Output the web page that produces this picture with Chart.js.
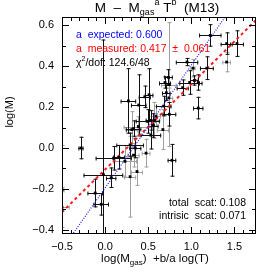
<!DOCTYPE html>
<html>
<head>
<meta charset="utf-8">
<script src="https://cdn.jsdelivr.net/npm/chart.js@4.4.1/dist/chart.umd.min.js"></script>
<style>
  html, body { margin: 0; padding: 0; background: #fff; }
  #wrap { width: 274px; height: 274px; }
</style>
</head>
<body>
<div id="wrap"><canvas id="chart" width="274" height="274"></canvas></div>
<script>
// Clusters: x = log(Mgas) + b/a log(T), y = log(M), errors in both
const ptX   = [1.22, 1.41, 1.53, 1.41, 0.95, 1.18, 1.02, 0.735, 0.74, 0.695,
               0.98, 1.035, 1.08, 0.90, 0.71, 0.74, 0.46, 0.51, 0.27, 0.39,
               0.68, 1.08, 0.745, 0.59, 0.57, 0.495, 0.385, 0.31, 0.33, 0.67,
               0.53, 0.29, 0.35, 0.475, -0.28, 0.10, 0.16, 0.23, 0.33, 0.775,
               0.37, 0.29, -0.02, 0.07, -0.115, -0.045, -0.50, -0.50, 0.53, 0.56];
const ptY   = [0.55, 0.51, 0.51, 0.42, 0.42, 0.39, 0.39, 0.345, 0.31, 0.32,
               0.32, 0.33, 0.32, 0.295, 0.27, 0.245, 0.25, 0.26, 0.23, 0.21,
               0.205, 0.195, 0.165, 0.155, 0.135, 0.13, 0.105, 0.09, 0.095, 0.09,
               0.063, 0.015, 0.0, -0.025, 0.0, -0.05, -0.045, -0.065, -0.035, -0.06,
               -0.115, -0.14, -0.13, -0.145, -0.22, -0.275, -0.29, -0.205, 0.135, 0.11];
const errX  = [0.13, 0.07, 0.08, 0.05, 0.13, 0.08, 0.03, 0.05, 0.09, 0.07,
               0.12, 0.05, 0.05, 0.07, 0.05, 0.05, 0.07, 0.05, 0.09, 0.09,
               0.09, 0.06, 0.08, 0.06, 0.07, 0.14, 0.17, 0.07, 0.09, 0.07,
               0.12, 0.16, 0.07, 0.05, 0.03, 0.21, 0.07, 0.14, 0.07, 0.05,
               0.07, 0.07, 0.23, 0.06, 0.09, 0.09, 0.09, 0.03, 0.06, 0.06];
const errY  = [0.055, 0.055, 0.065, 0.05, 0.02, 0.058, 0.045, 0.04, 0.305, 0.03,
               0.06, 0.025, 0.04, 0.04, 0.04, 0.05, 0.055, 0.13, 0.16, 0.15,
               0.05, 0.055, 0.06, 0.05, 0.09, 0.06, 0.05, 0.09, 0.04, 0.10,
               0.07, 0.06, 0.05, 0.07, 0.055, 0.06, 0.06, 0.08, 0.06, 0.08,
               0.07, 0.20, 0.66, 0.05, 0.07, 0.055, 0.10, 0.22, 0.05, 0.06];
// 1 = main sample, 2 = secondary sample
const sample = [1, 1, 1, 2, 1, 1, 2, 1, 2, 1,
                1, 1, 1, 1, 1, 2, 1, 1, 1, 1,
                1, 1, 1, 2, 2, 1, 2, 2, 1, 2,
                1, 1, 1, 2, 1, 1, 1, 2, 2, 1,
                2, 2, 1, 1, 1, 1, 2, 2, 1, 1];

// fit lines
const fitNames      = ['expected', 'measured'];
const fitSlope      = [0.600, 0.417];
const fitIntercept  = [-0.195, -0.105];
const fitX          = [-0.6, 1.8];

const xTicks = [-0.5, 0.0, 0.5, 1.0, 1.5];
const yTicks = [-0.4, -0.2, 0.0, 0.2, 0.4, 0.6];

const X_MIN = -0.5, X_MAX = 1.75, Y_MIN = -0.42, Y_MAX = 0.64;
const FONT = '"Liberation Sans", Arial, sans-serif';

function fmt(v) {
    return v.toFixed(1).replace('-', '\u2212');
}

// draw text made of pieces: [text, 0 normal | -1 subscript | 1 superscript]
function drawParts(ctx, parts, x, y, size, align, color) {
    const small = Math.round(size * 0.68);
    let total = 0;
    parts.forEach(p => {
        ctx.font = (p[1] ? small : size) + 'px ' + FONT;
        total += ctx.measureText(p[0]).width;
    });
    let cx = align === 'center' ? x - total / 2 : (align === 'right' ? x - total : x);
    ctx.fillStyle = color || '#000';
    ctx.textBaseline = 'middle';
    ctx.textAlign = 'left';
    parts.forEach(p => {
        ctx.font = (p[1] ? small : size) + 'px ' + FONT;
        const dy = p[1] === -1 ? size * 0.35 : (p[1] === 1 ? -size * 0.38 : 0);
        ctx.fillText(p[0], cx, y + dy);
        cx += ctx.measureText(p[0]).width;
    });
}

const errorBars = {
    id: 'errorBars',
    beforeDatasetsDraw(chart) {
        const { ctx, chartArea, scales: { x, y } } = chart;
        ctx.save();
        ctx.beginPath();
        ctx.rect(chartArea.left, chartArea.top, chartArea.width, chartArea.height);
        ctx.clip();
        ctx.lineWidth = 1;
        [2, 1].forEach(group => {
            ctx.strokeStyle = group === 2 ? '#a0a0a0' : '#111';
            ptX.forEach((v, i) => {
                if (sample[i] !== group) return;
                const cx = Math.round(x.getPixelForValue(v)) + 0.5;
                const cy = Math.round(y.getPixelForValue(ptY[i])) + 0.5;
                const x0 = x.getPixelForValue(v - errX[i]);
                const x1 = x.getPixelForValue(v + errX[i]);
                const y0 = y.getPixelForValue(ptY[i] - errY[i]);
                const y1 = y.getPixelForValue(ptY[i] + errY[i]);
                ctx.beginPath();
                ctx.moveTo(x0, cy); ctx.lineTo(x1, cy);
                ctx.moveTo(x0 + 0.5, cy - 2); ctx.lineTo(x0 + 0.5, cy + 2);
                ctx.moveTo(x1 - 0.5, cy - 2); ctx.lineTo(x1 - 0.5, cy + 2);
                ctx.moveTo(cx, y0); ctx.lineTo(cx, y1);
                ctx.moveTo(cx - 2, y0 - 0.5); ctx.lineTo(cx + 2, y0 - 0.5);
                ctx.moveTo(cx - 2, y1 + 0.5); ctx.lineTo(cx + 2, y1 + 0.5);
                ctx.stroke();
            });
        });
        ctx.restore();
    }
};

const frameAndText = {
    id: 'frameAndText',
    afterDraw(chart) {
        const { ctx, chartArea: a, scales: { x, y } } = chart;
        ctx.save();
        ctx.strokeStyle = '#000';
        ctx.lineWidth = 1;
        ctx.strokeRect(a.left + 0.5, a.top + 0.5, a.width - 1, a.height - 1);

        // inward ticks on all four sides
        ctx.beginPath();
        for (let v = -0.5; v <= X_MAX + 1e-9; v += 0.1) {
            const px = Math.round(x.getPixelForValue(v)) + 0.5;
            const major = xTicks.some(t => Math.abs(t - v) < 1e-6);
            const len = major ? 7 : 4;
            ctx.moveTo(px, a.bottom); ctx.lineTo(px, a.bottom - len);
            ctx.moveTo(px, a.top); ctx.lineTo(px, a.top + len);
        }
        for (let v = -0.4; v <= Y_MAX + 1e-9; v += 0.1) {
            const py = Math.round(y.getPixelForValue(v)) + 0.5;
            const major = yTicks.some(t => Math.abs(t - v) < 1e-6);
            const len = major ? 7 : 4;
            ctx.moveTo(a.left, py); ctx.lineTo(a.left + len, py);
            ctx.moveTo(a.right, py); ctx.lineTo(a.right - len, py);
        }
        ctx.stroke();

        // title
        drawParts(ctx, [['M  \u2013  M', 0], ['gas', -1], ['a', 1], [' T', 0], ['b', 1], ['  (M13)', 0]],
            157, 8, 13.5, 'center');

        // axis titles
        drawParts(ctx, [['log(M', 0], ['gas', -1], [')  +b/a log(T)', 0]], 155, 259, 11.5, 'center');
        ctx.save();
        ctx.translate(10, 112);
        ctx.rotate(-Math.PI / 2);
        drawParts(ctx, [['log(M)', 0]], 0, 0, 11, 'center');
        ctx.restore();

        // fit annotations
        drawParts(ctx, [['a  expected: ' + fitSlope[0].toFixed(3), 0]], 76, 35, 10.5, 'left', '#0000ff');
        drawParts(ctx, [['a  measured: ' + fitSlope[1].toFixed(3) + '  \u00b1  0.061', 0]], 76, 49, 10.5, 'left', '#ff0000');
        drawParts(ctx, [['\u03c7', 0], ['2', 1], ['/dof: 124.6/48', 0]], 76, 63, 10.5, 'left', '#000');

        drawParts(ctx, [['total  scat: 0.108', 0]], 246, 203, 10.5, 'right', '#000');
        drawParts(ctx, [['intrisic  scat: 0.071', 0]], 246, 216, 10.5, 'right', '#000');
        ctx.restore();
    }
};

const fitColors = ['#1f1fff', '#ff1a1a'];
const fitDash = [[1, 1.5], [3, 3]];
const fitWidth = [1.2, 2];

const datasets = fitNames.map((name, k) => ({
    type: 'line',
    label: name,
    data: fitX.map(v => ({ x: v, y: fitSlope[k] * v + fitIntercept[k] })),
    borderColor: fitColors[k],
    borderWidth: fitWidth[k],
    borderDash: fitDash[k],
    pointRadius: 0,
    fill: false,
    order: 2
}));

datasets.push({
    type: 'scatter',
    label: 'clusters',
    data: ptX.map((v, i) => ({ x: v, y: ptY[i] })),
    pointStyle: 'rect',
    pointRadius: 2,
    backgroundColor: '#000',
    borderColor: '#000',
    borderWidth: 0,
    order: 1
});

new Chart(document.getElementById('chart'), {
    type: 'scatter',
    data: { datasets },
    options: {
        responsive: false,
        animation: false,
        devicePixelRatio: 1,
        layout: { padding: { left: 0, right: 18, top: 17, bottom: 0 } },
        plugins: { legend: { display: false }, tooltip: { enabled: false } },
        scales: {
            x: {
                type: 'linear',
                min: X_MIN, max: X_MAX,
                afterBuildTicks: s => { s.ticks = xTicks.map(v => ({ value: v })); },
                afterFit: s => { s.height = 40; },
                grid: { display: false, drawTicks: false },
                border: { display: false },
                ticks: {
                    padding: 6, color: '#000', maxRotation: 0, autoSkip: false,
                    font: { size: 11, family: FONT },
                    callback: v => fmt(v)
                }
            },
            y: {
                type: 'linear',
                min: Y_MIN, max: Y_MAX,
                afterBuildTicks: s => { s.ticks = yTicks.map(v => ({ value: v })); },
                afterFit: s => { s.width = 62; },
                grid: { display: false, drawTicks: false },
                border: { display: false },
                ticks: {
                    padding: 8, color: '#000', autoSkip: false,
                    font: { size: 11, family: FONT },
                    callback: v => fmt(v)
                }
            }
        }
    },
    plugins: [errorBars, frameAndText]
});
</script>
</body>
</html>
